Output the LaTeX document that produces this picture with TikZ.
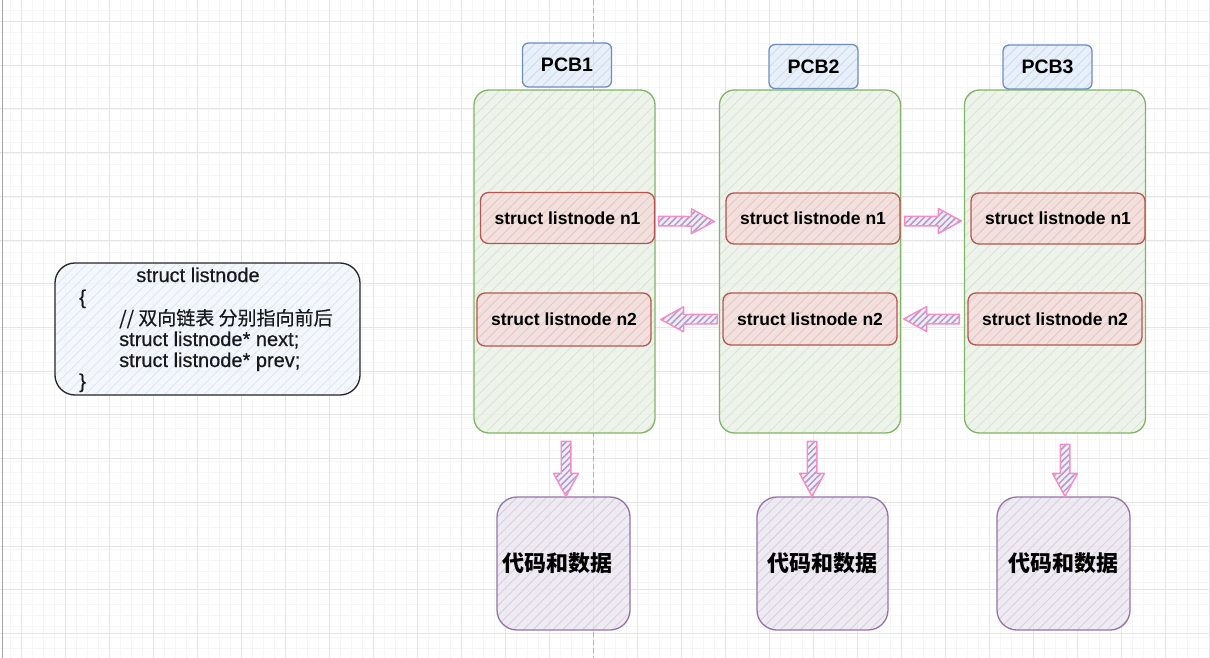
\documentclass[tikz,border=0pt]{standalone}
\usepackage{fontspec}
\setmainfont{Liberation Sans}
\newfontfamily\cjk{Noto Sans CJK SC}
\newfontfamily\medfont[FakeBold=0.5]{Liberation Sans}
\newfontfamily\cjkmed[FakeBold=0.4]{Noto Sans CJK SC}
\usetikzlibrary{patterns.meta,calc}
\definecolor{gridmin}{HTML}{F6F6F6}
\definecolor{gridmaj}{HTML}{E6E6E6}
\definecolor{grnfill}{HTML}{EBF2E8}
\definecolor{grnhatch}{HTML}{D8E7D2}
\definecolor{grnline}{HTML}{82B366}
\definecolor{bluefill}{HTML}{E4EDFA}
\definecolor{bluehatch}{HTML}{CCDCF3}
\definecolor{blueline}{HTML}{6C8EBF}
\definecolor{redfill}{HTML}{F3DEDC}
\definecolor{redhatch}{HTML}{EBC5C2}
\definecolor{redline}{HTML}{B85450}
\definecolor{purfill}{HTML}{ECE7F0}
\definecolor{purhatch}{HTML}{D9CFE0}
\definecolor{purline}{HTML}{9673A6}
\definecolor{defill}{HTML}{F2F6FC}
\definecolor{dehatch}{HTML}{DDE7F6}
\definecolor{arrline}{HTML}{F78DC4}
\definecolor{arrfill}{HTML}{F1ECF6}
\definecolor{arrhatch}{HTML}{AE9CCB}
\newcommand\barrow[2]{%
  \coordinate (#1h) at ($(#2)!23pt!(#1)$);
  \draw[blockarr] ($(#1)!4.8pt!90:(#2)$) -- ($(#1h)!4.8pt!90:(#2)$) --
    ($(#1h)!12.5pt!90:(#2)$) -- (#2) -- ($(#1h)!12.5pt!-90:(#2)$) --
    ($(#1h)!4.8pt!-90:(#2)$) -- ($(#1)!4.8pt!-90:(#2)$) -- cycle;}
\begin{document}
\begin{tikzpicture}[x=1pt,y=-1pt,
  hatch/.style n args={3}{preaction={fill=#1},
     pattern={Lines[angle=45,distance=#3,line width=0.9pt]},pattern color=#2},
  shp/.style={line width=1.3pt,fill opacity=0.82,text opacity=1,inner sep=0pt},
  container/.style={shp,draw=grnline,hatch={grnfill}{grnhatch}{8pt},rounded corners=15pt,
     minimum width=181pt,minimum height=343pt},
  pcblabel/.style={shp,draw=blueline,hatch={bluefill}{bluehatch}{7pt},rounded corners=6pt,
     minimum width=89pt,minimum height=44pt,font=\fontsize{19.5}{23}\selectfont\bfseries},
  listbox/.style={shp,draw=redline,hatch={redfill}{redhatch}{7pt},rounded corners=8pt,
     minimum width=174pt,minimum height=51pt,font=\fontsize{17.5}{21}\selectfont\bfseries},
  databox/.style={shp,draw=purline,hatch={purfill}{purhatch}{7pt},rounded corners=20pt,
     minimum width=133pt,minimum height=133pt,font=\cjk\fontsize{22}{26}\selectfont\bfseries},
  defbox/.style={shp,draw=black!85,hatch={defill}{dehatch}{7pt},rounded corners=20pt,
     minimum width=305pt,minimum height=132pt},
  deftext/.style={anchor=base west,inner sep=0pt,text=black!90,font=\medfont\fontsize{20}{24}\selectfont},
  blockarr/.style={draw=arrline,line width=1.4pt,line join=round,
     preaction={fill=arrfill},pattern={Lines[angle=45,distance=4.5pt,line width=1.5pt]},
     pattern color=arrhatch},
]
\useasboundingbox (0,0) rectangle (1210,658);
\fill[white] (0,0) rectangle (1210,658);
% grid
\foreach \i in {0,...,110} {\draw[gridmin,line width=0.6pt] ({-0.3+11*\i},0) -- ({-0.3+11*\i},658);}
\foreach \i in {0,...,60} {\draw[gridmin,line width=0.6pt] (0,{-0.5+11*\i}) -- (1210,{-0.5+11*\i});}
\foreach \i in {0,...,27} {\draw[gridmaj,line width=0.8pt] ({21.7+44*\i},0) -- ({21.7+44*\i},658);}
\foreach \i in {0,...,15} {\draw[gridmaj,line width=0.8pt] (0,{21.5+43.7*\i}) -- (1210,{21.5+43.7*\i});}
\draw[gray!70,line width=1pt] (2,0) -- (2,658);
\draw[gray!60,line width=0.6pt,dash pattern=on 5pt off 3pt] (593,0) -- (593,658);

% definition box
\node[defbox] (def) at (207.5,329) {};
\node[deftext,anchor=base] (d0) at (198,282) {struct listnode};
\node[deftext] (d1) at (79,304) {\{};
\node[deftext,font=\cjkmed\fontsize{19}{23}\selectfont] (d2) at (119,325) {// 双向链表 分别指向前后};
\node[deftext] (d3) at (119,346) {struct listnode* next;};
\node[deftext] (d4) at (119,367) {struct listnode* prev;};
\node[deftext] (d5) at (79,388) {\}};

% containers
\node[container] (g1) at (564.5,261.5) {};
\node[container] (g2) at (810,261.5) {};
\node[container] (g3) at (1055,261.5) {};

\node[pcblabel] (pcb1) at (567,65) {PCB1};
\node[pcblabel] (pcb2) at (813.5,66.5) {PCB2};
\node[pcblabel] (pcb3) at (1047.5,67) {PCB3};

\node[listbox] (a1) at (567.5,218) {struct listnode n1};
\node[listbox] (a2) at (813,218.5) {struct listnode n1};
\node[listbox] (a3) at (1058,218.5) {struct listnode n1};
\node[listbox,minimum height=53pt] (b1) at (564,319.5) {struct listnode n2};
\node[listbox,minimum height=52pt] (b2) at (810,319) {struct listnode n2};
\node[listbox,minimum height=52pt] (b3) at (1055,319) {struct listnode n2};

\node[databox] (c1) at (563.5,563.5) {\hspace*{-12pt}代码和数据};
\node[databox,minimum width=131pt] (c2) at (822.5,563.5) {代码和数据};
\node[databox] (c3) at (1063.5,563.5) {代码和数据};

% arrows
\coordinate (r1s) at ($(a1.east)+(3.5,3)$);  \coordinate (r1e) at ($(a2.west)+(-11,3)$);
\coordinate (r2s) at ($(a2.east)+(4,2.5)$);   \coordinate (r2e) at ($(a3.west)+(-9,2.5)$);
\coordinate (l1s) at ($(b2.west)+(-5,0)$);    \coordinate (l1e) at ($(b1.east)+(9,0)$);
\coordinate (l2s) at ($(b3.west)+(-8,0)$);    \coordinate (l2e) at ($(b2.east)+(6,0)$);
\coordinate (v1s) at ($(c1.north)+(2.5,-55)$); \coordinate (v1e) at ($(c1.north)+(2.5,0)$);
\coordinate (v2s) at ($(c2.north)+(-10.5,-55)$); \coordinate (v2e) at ($(c2.north)+(-10.5,0)$);
\coordinate (v3s) at ($(c3.north)+(1.5,-52)$); \coordinate (v3e) at ($(c3.north)+(1.5,0)$);
\barrow{r1s}{r1e}
\barrow{r2s}{r2e}
\barrow{l1s}{l1e}
\barrow{l2s}{l2e}
\barrow{v1s}{v1e}
\barrow{v2s}{v2e}
\barrow{v3s}{v3e}
\end{tikzpicture}
\end{document}
